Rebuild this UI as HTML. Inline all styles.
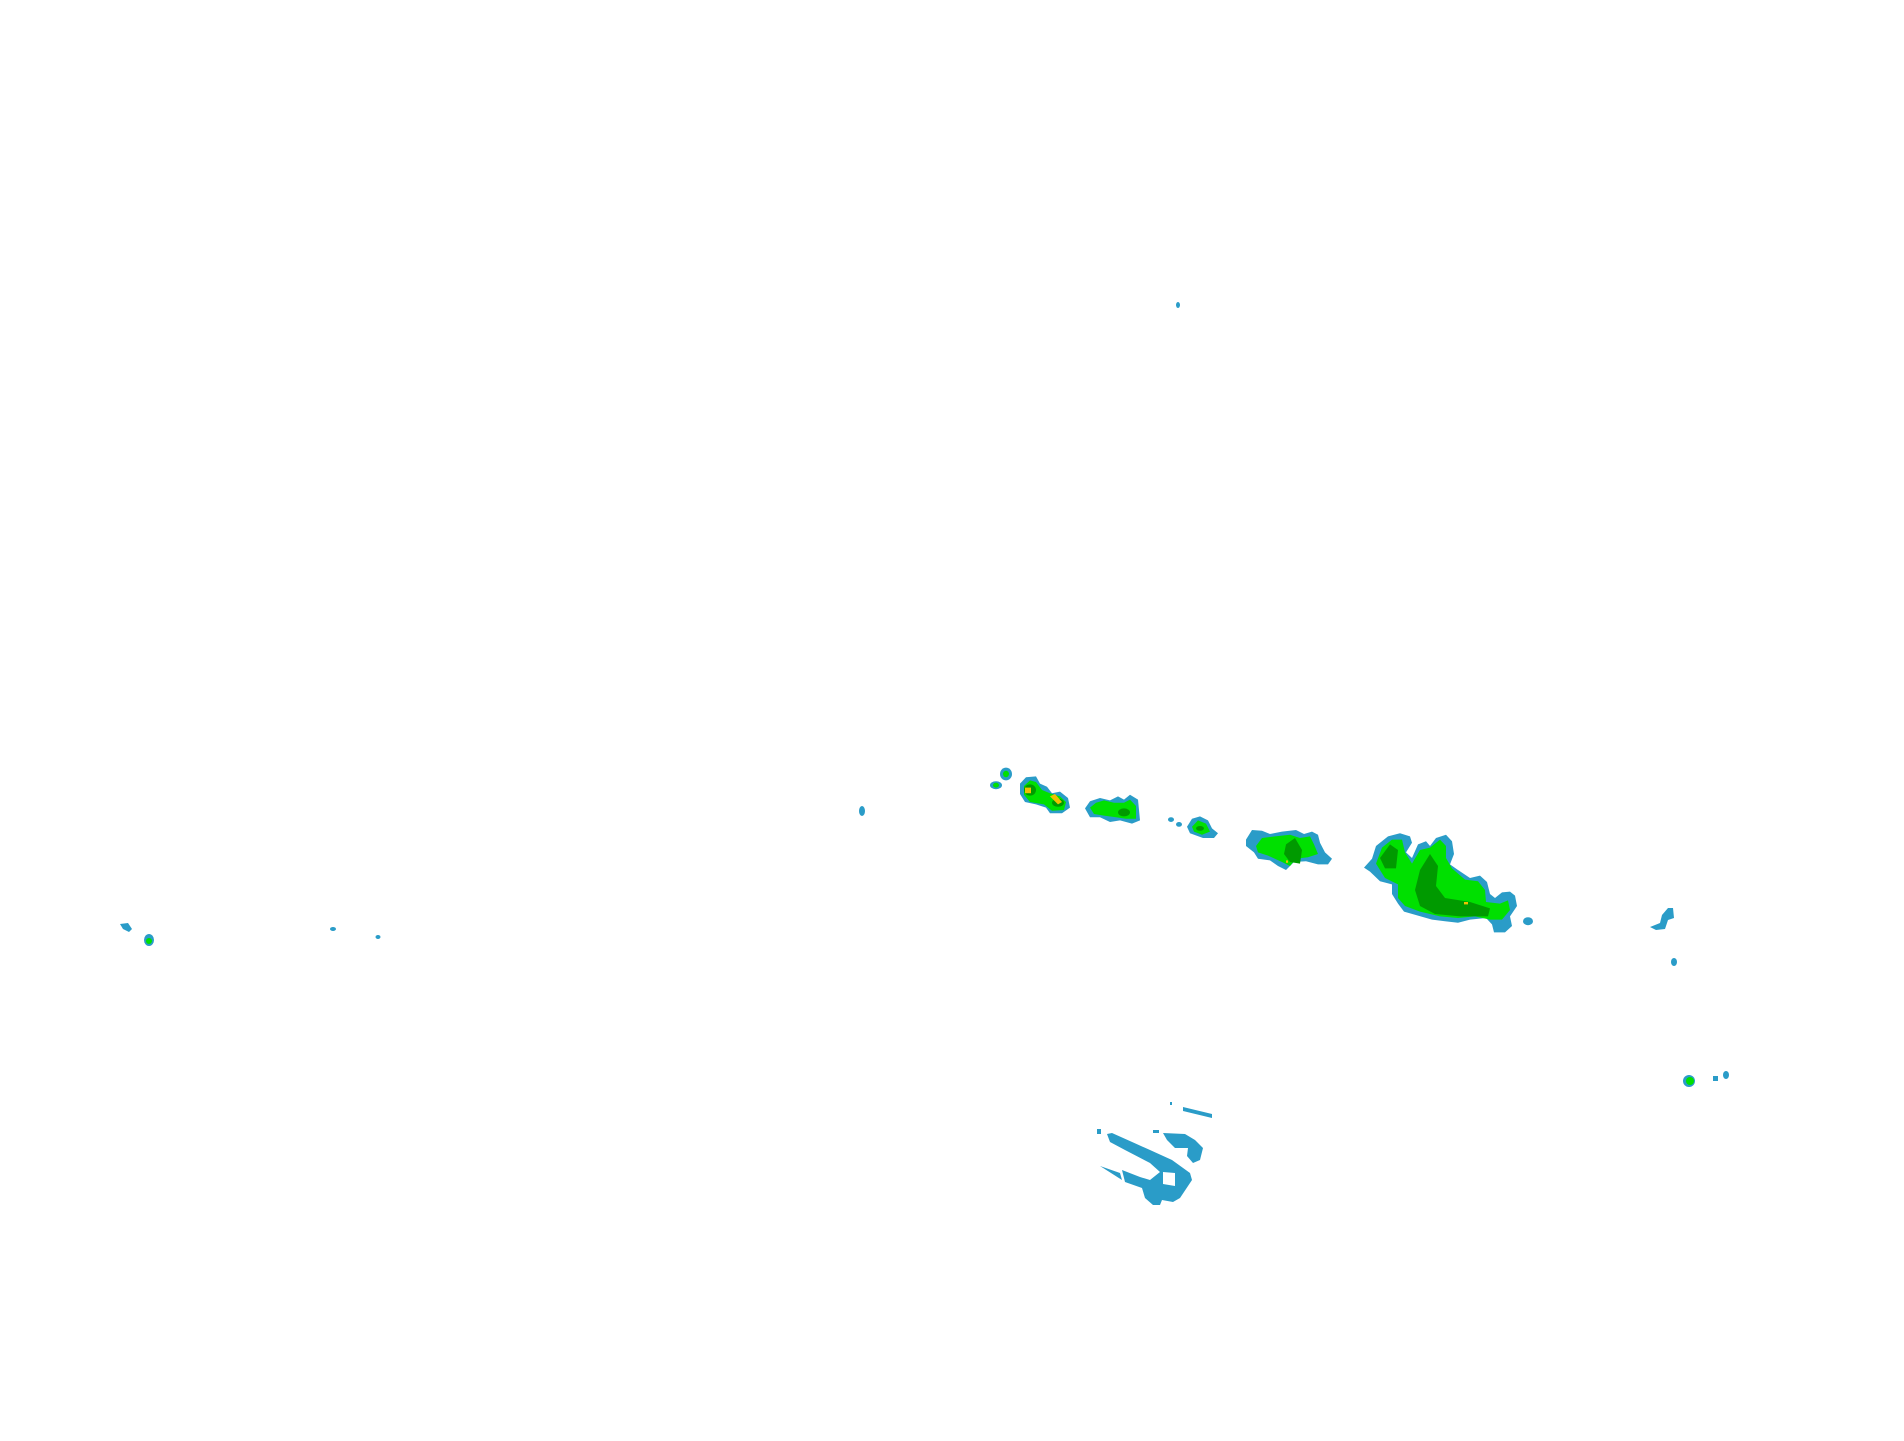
<!DOCTYPE html>
<html><head><meta charset="utf-8"><style>html,body{margin:0;padding:0;background:#fff;width:1904px;height:1441px;overflow:hidden}</style></head>
<body>
<svg width="1904" height="1441" viewBox="0 0 1904 1441" xmlns="http://www.w3.org/2000/svg">
<g fill="#2a9cc8">
<path d="M120,924 L128,923 L132,929 L129,932 L123,929 Z"/>
<ellipse cx="149" cy="940" rx="5" ry="6"/>
<ellipse cx="333" cy="929" rx="3" ry="2"/>
<ellipse cx="378" cy="937" rx="2.5" ry="2"/>
<ellipse cx="862" cy="811" rx="3" ry="5"/>
<ellipse cx="1178" cy="305" rx="2" ry="3"/>
<path d="M1650,927 L1660,923 L1662,915 L1668,908 L1673,908 L1674,918 L1668,920 L1665,929 L1656,930 Z"/>
<ellipse cx="1674" cy="962" rx="3" ry="4"/>
<ellipse cx="1689" cy="1081" rx="6" ry="6"/>
<rect x="1713" y="1076" width="5" height="5"/>
<ellipse cx="1726" cy="1075" rx="3" ry="4"/>
<!-- ground clutter -->
<path d="M1107,1134 L1112,1133 L1150,1150 L1172,1160 L1190,1173 L1192,1180 L1180,1198 L1173,1202 L1162,1200 L1160,1205 L1153,1205 L1145,1198 L1142,1188 L1125,1182 L1122,1170 L1140,1177 L1150,1180 L1160,1172 L1150,1163 L1125,1150 L1110,1142 Z"/>
<path d="M1122,1180 L1100,1166 L1120,1173 Z"/>
<path d="M1163,1133 L1185,1134 L1195,1140 L1203,1148 L1200,1160 L1193,1163 L1187,1156 L1188,1148 L1175,1148 L1167,1140 Z"/>
<path d="M1183,1107 L1212,1114 L1212,1118 L1183,1111 Z"/>
<rect x="1153" y="1130" width="6" height="3"/>
<rect x="1097" y="1129" width="4" height="5"/>
<rect x="1170" y="1102" width="2" height="3"/>
</g>
<path d="M1163,1172 L1175,1173 L1175,1186 L1163,1184 Z" fill="#fff"/>
<g fill="#00e000">
<ellipse cx="149" cy="941" rx="3" ry="3"/>
<ellipse cx="1690" cy="1081" rx="4" ry="4"/>
</g>
<g transform="translate(0,150) scale(1,0.8)">
<g fill="#2a9cc8">
<ellipse cx="1006" cy="780" rx="6" ry="8"/>
<ellipse cx="996" cy="794" rx="6" ry="5"/>
<path d="M1020,792 L1026,784 L1036,783 L1040,792 L1047,796 L1052,804 L1060,802 L1068,810 L1070,822 L1062,829 L1050,829 L1046,822 L1036,818 L1025,815 L1020,805 Z"/>
<path d="M1085,823 L1090,814 L1100,810 L1110,813 L1118,808 L1124,812 L1130,806 L1138,812 L1140,838 L1132,842 L1120,838 L1110,840 L1100,834 L1090,834 Z"/>
<circle cx="1171" cy="837" r="3"/><circle cx="1179" cy="843" r="3"/>
<path d="M1187,846 L1192,836 L1200,833 L1208,838 L1212,848 L1218,854 L1214,860 L1203,860 L1190,854 Z"/>
<path d="M1246,862 L1252,850 L1262,851 L1270,855 L1282,852 L1296,850 L1304,855 L1312,852 L1318,856 L1320,866 L1325,878 L1332,886 L1328,893 L1318,893 L1306,889 L1294,890 L1286,900 L1278,895 L1270,888 L1258,886 L1254,878 L1246,870 Z"/>
<path d="M1364,897 L1372,886 L1376,870 L1388,858 L1400,854 L1410,858 L1412,866 L1406,878 L1412,885 L1418,868 L1426,864 L1430,870 L1436,860 L1446,856 L1452,864 L1454,880 L1450,893 L1458,900 L1470,910 L1480,907 L1487,915 L1490,930 L1495,935 L1502,928 L1510,927 L1515,932 L1517,945 L1510,958 L1512,970 L1505,978 L1494,978 L1492,968 L1486,960 L1470,962 L1458,966 L1445,964 L1432,962 L1418,957 L1404,952 L1398,942 L1392,930 L1392,918 L1380,914 L1370,902 Z"/>
<ellipse cx="1528" cy="964" rx="5" ry="5"/>
</g>
<g fill="#00e000">
<ellipse cx="1006" cy="780" rx="3" ry="4"/>
<ellipse cx="996" cy="794" rx="3" ry="3"/>
<path d="M1024,795 L1030,788 L1036,790 L1042,800 L1050,804 L1060,808 L1066,815 L1064,825 L1052,826 L1044,818 L1030,815 L1024,806 Z"/>
<path d="M1090,822 L1096,816 L1104,813 L1114,816 L1124,816 L1130,812 L1136,820 L1136,836 L1126,836 L1116,834 L1104,832 L1094,830 Z"/>
<path d="M1192,846 L1198,838 L1206,842 L1210,852 L1202,856 L1194,852 Z"/>
<path d="M1256,870 L1262,860 L1275,858 L1290,856 L1300,860 L1310,858 L1314,868 L1318,880 L1308,884 L1296,886 L1290,895 L1282,890 L1268,882 L1258,878 Z"/>
<path d="M1376,892 L1382,872 L1392,862 L1402,862 L1405,878 L1412,892 L1420,875 L1430,872 L1440,862 L1446,870 L1446,885 L1452,898 L1465,912 L1478,914 L1485,925 L1486,940 L1500,942 L1508,938 L1510,950 L1502,962 L1490,962 L1475,958 L1458,960 L1440,958 L1420,952 L1405,945 L1398,935 L1398,918 L1385,910 Z"/>
</g>
<g fill="#009a00">
<ellipse cx="1030" cy="800" rx="6" ry="7"/>
<ellipse cx="1058" cy="816" rx="6" ry="5"/>
<ellipse cx="1124" cy="828" rx="6" ry="5"/>
<ellipse cx="1200" cy="848" rx="4" ry="3"/>
<path d="M1286,868 L1295,860 L1302,875 L1300,892 L1290,890 L1284,880 Z"/>
<path d="M1380,885 L1390,868 L1398,875 L1396,898 L1385,898 Z"/>
<path d="M1420,900 L1430,880 L1438,895 L1436,920 L1445,935 L1470,940 L1490,948 L1488,958 L1460,958 L1435,955 L1420,945 L1415,925 Z"/>
</g>
<g fill="#f0c000">
<rect x="1025" y="797" width="6" height="7"/>
<path d="M1050,808 L1055,805 L1062,815 L1058,818 Z"/>
<rect x="1286" y="888" width="2" height="3"/>
<rect x="1464" y="940" width="4" height="3"/>
</g>
</g>
</svg>
</body></html>
